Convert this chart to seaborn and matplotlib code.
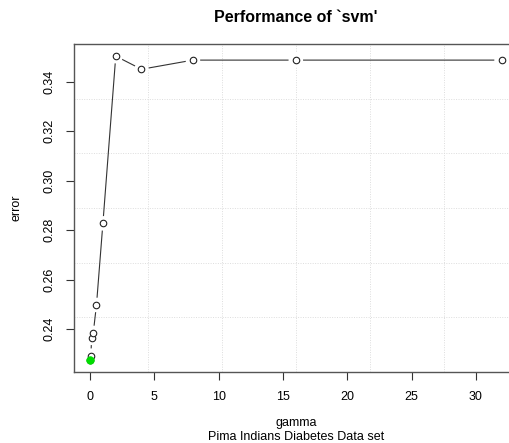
import numpy as np
import pandas as pd
import matplotlib
matplotlib.use("Agg")
import matplotlib.pyplot as plt
import seaborn as sns

gamma = [0.03125, 0.0625, 0.125, 0.25, 0.5, 1, 2, 4, 8, 16, 32]
error = [0.2276, 0.2293, 0.2365, 0.2385, 0.2498, 0.2828, 0.3504, 0.3451, 0.3488, 0.3488, 0.3488]
best_gamma = [0.03125]
best_error = [0.2276]
x_ticks = [0, 5, 10, 15, 20, 25, 30]
y_ticks = [0.24, 0.26, 0.28, 0.30, 0.32, 0.34]

df = pd.DataFrame({"gamma": gamma, "error": error})
best = pd.DataFrame({"gamma": best_gamma, "error": best_error})

sns.set_style("white")
plt.rcParams["font.family"] = ["Liberation Sans", "DejaVu Sans"]
plt.rcParams["text.color"] = "black"
plt.rcParams["xtick.color"] = "black"
plt.rcParams["ytick.color"] = "black"

fig = plt.figure(figsize=(5.10, 4.43), dpi=100)
ax = fig.add_axes([74 / 510, 1 - 372 / 443, 444 / 510, 328 / 443])

sns.lineplot(data=df, x="gamma", y="error", ax=ax, color="#333333", lw=0.8,
             sort=False, zorder=3)
ax.margins(x=0.04, y=0.04)
ax.autoscale_view()
xl = ax.get_xlim()
yl = ax.get_ylim()
ax.set_xlim(xl)
ax.set_ylim(yl)

# grid (R grid(): equal divisions of the plotting region)
for gx in np.linspace(xl[0], xl[1], 7)[1:-1]:
    ax.axvline(gx, color="#dddddd", lw=0.7, ls=(0, (1, 1.5)), zorder=1)
for gy in np.linspace(yl[0], yl[1], 7)[1:-1]:
    ax.axhline(gy, color="#dddddd", lw=0.7, ls=(0, (1, 1.5)), zorder=1)

# gaps around points (type = "b")
sns.scatterplot(data=df, x="gamma", y="error", ax=ax, s=110, color="white",
                edgecolor="none", linewidth=0, zorder=4)
sns.scatterplot(data=df, x="gamma", y="error", ax=ax, s=22, facecolor="white",
                edgecolor="#222222", linewidth=0.8, zorder=5)
sns.scatterplot(data=best, x="gamma", y="error", ax=ax, s=30, color="#00dd00",
                edgecolor="#00dd00", linewidth=0.5, zorder=6)

ax.set_xticks(x_ticks)
ax.set_xticklabels([str(v) for v in x_ticks], fontsize=9)
ax.set_yticks(y_ticks)
ax.set_yticklabels([f"{v:.2f}" for v in y_ticks], fontsize=9, rotation=90, va="center")
ax.tick_params(axis="both", direction="out", length=6, width=0.8, color="#333333",
               left=True, bottom=True)
ax.tick_params(axis="x", pad=8)
ax.tick_params(axis="y", pad=7)
for s in ax.spines.values():
    s.set_color("#555555")
    s.set_linewidth(1.0)
    s.set_visible(True)

ax.set_xlabel("")
ax.set_ylabel("")
fig.text(17 / 510, 1 - 208 / 443, "error", ha="center", va="center", fontsize=9,
         rotation=90)
fig.text(296 / 510, 1 - 423 / 443, "gamma", ha="center", va="center", fontsize=9)
fig.text(296 / 510, 1 - 437 / 443, "Pima Indians Diabetes Data set", ha="center",
         va="center", fontsize=9)
fig.text(296 / 510, 1 - 17 / 443, "Performance of `svm'", ha="center", va="center",
         fontsize=11.5, fontweight="bold")

fig.savefig("out.png", dpi=100, facecolor="white")
